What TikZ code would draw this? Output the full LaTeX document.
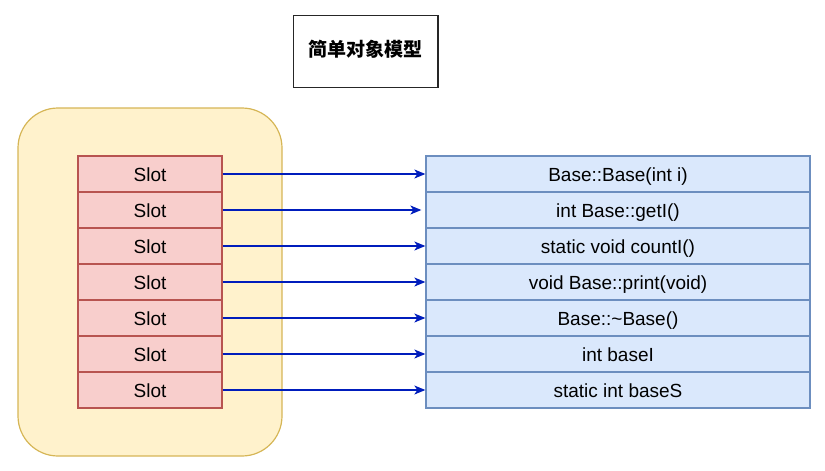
\documentclass[tikz,border=0pt]{standalone}
\usepackage{fontspec}
\setmainfont{Liberation Sans}
\newfontfamily\cjk{Noto Sans CJK SC}
\usetikzlibrary{arrows.meta}
\definecolor{yfill}{HTML}{FFF2CC}
\definecolor{ydraw}{HTML}{D6B656}
\definecolor{rfill}{HTML}{F8CECC}
\definecolor{rdraw}{HTML}{B85450}
\definecolor{bfill}{HTML}{DAE8FC}
\definecolor{bdraw}{HTML}{6C8EBF}
\definecolor{arrowc}{HTML}{001DBC}
\tikzset{
  rowtext/.style={inner sep=0pt, text height=15.6pt, text depth=1pt, font=\fontsize{19}{23}\selectfont},
  slotbox/.style={rowtext, draw=rdraw, fill=rfill, line width=1.3pt, minimum width=144pt, minimum height=36pt},
  funcbox/.style={rowtext, draw=bdraw, fill=bfill, line width=1.3pt, minimum width=384pt, minimum height=36pt},
  ptr/.style={draw=arrowc, line width=1.2pt, -{Stealth[length=11pt,width=9pt,inset=3pt]}},
}
\begin{document}
\begin{tikzpicture}[x=1pt,y=-1pt]
\useasboundingbox (0,0) rectangle (825,471);
\node[draw=black!85, line width=1.3pt, minimum width=144.6pt, minimum height=72.4pt, inner sep=0pt, text height=16.7pt, text depth=6.3pt, font=\cjk\bfseries\fontsize{19}{23}\selectfont] (title) at (365.8,51.5) {简单对象模型};
\node[draw=ydraw, fill=yfill, line width=1.2pt, rounded corners=40pt, minimum width=264pt, minimum height=348pt, inner sep=0pt] (obj) at (150,282) {};
\foreach \i/\t in {0/{Base::Base(int i)},1/{int Base::getI()},2/{static void countI()},3/{void Base::print(void)},4/{Base::\textasciitilde Base()},5/{int baseI},6/{static int baseS}}{
  \node[slotbox] (s\i) at (150,174+36*\i) {Slot};
  \node[funcbox] (f\i) at (618,174+36*\i) {\t};
}
\foreach \i in {0,2,3,4,5,6}{
  \draw[ptr] (s\i.east) -- (f\i.west);
}
\draw[ptr, shorten >=4pt] (s1.east) -- (f1.west);
\end{tikzpicture}
\end{document}
